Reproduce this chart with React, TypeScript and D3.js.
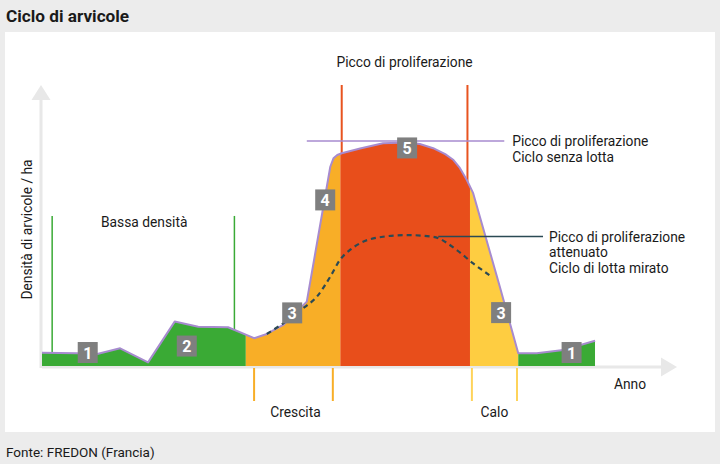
import * as React from "react";
import * as d3 from "d3";

const WIDTH: number = 720;
const HEIGHT: number = 464;
const FONT: string = "Roboto, 'DejaVu Sans', sans-serif";
const TEXT: string = "#1a1a1a";

// curve without control (time 0-100, density 0-100)
const cycleTime: number[] = [0, 5.5, 8.7, 12.3, 16.7, 20.9, 24.6, 29.3, 33.4, 35.4, 38.0, 41.7, 45.4, 45.9, 46.5, 47.2, 50.1, 53.7, 57.4, 59.5, 61.6, 63.5, 64.8, 65.8, 66.9, 67.9, 72.1, 75.0, 77.9, 82.1, 87.1];
const cycleDensity: number[] = [4.7, 4.5, 4.3, 6.3, 1.3, 15.8, 14.0, 13.8, 9.9, 11.4, 14.6, 22.9, 70.9, 73.9, 75.1, 75.7, 77.4, 79.3, 79.5, 79.0, 77.5, 75.4, 73.3, 70.5, 66.2, 61.5, 28.2, 4.5, 4.5, 5.7, 9.0];

// attenuated curve with targeted control
const controlTime: number[] = [35.4, 38.0, 41.1, 43.3, 45.4, 46.9, 48.5, 50.1, 53.7, 57.4, 61.6, 65.3, 67.9, 70.8];
const controlDensity: number[] = [11.4, 15.2, 20.5, 24.7, 31.8, 37.7, 41.3, 43.7, 46.0, 46.6, 46.0, 41.3, 36.5, 31.8];

// phases of the cycle
const phaseStart: number[] = [0, 32.1, 47.0, 67.4, 75.0];
const phaseEnd: number[] = [32.1, 47.0, 67.4, 75.0, 87.1];
const phaseColors: string[] = ["#3aaa35", "#f8ae27", "#e84e1b", "#fecd41", "#3aaa35"];

const phaseLabels: string[] = ["1", "2", "3", "4", "5", "3", "1"];
const phaseLabelTime: number[] = [7.2, 22.8, 39.4, 44.6, 57.5, 72.3, 83.4];
const phaseLabelDensity: number[] = [4.8, 7.1, 18.9, 59.1, 77.6, 19.0, 4.8];

const lowDensityMarks: number[] = [1.6, 30.3];
const lowDensityTop: number = 53.4;
const peakMarks: number[] = [47.2, 67.0];
const peakTop: number = 100;
const growthMarks: number[] = [33.4, 45.8];
const declineMarks: number[] = [67.7, 74.8];

const peakLevel: number = 80.1;
const peakLevelRange: number[] = [41.7, 72.8];
const attenuatedLevel: number = 46.1;
const attenuatedRange: number[] = [62.4, 78.9];

interface Point {
    x: number;
    y: number;
}

const App: React.FC = () => {
    const ref: React.RefObject<SVGSVGElement> = React.useRef<SVGSVGElement>(null);

    React.useEffect(() => {
        const svg = d3.select(ref.current);
        svg.selectAll("*").remove();

        const x: d3.ScaleLinear<number, number> = d3.scaleLinear().domain([0, 100]).range([42, 677]);
        const y: d3.ScaleLinear<number, number> = d3.scaleLinear().domain([0, 100]).range([366, 85]);

        const cycle: Point[] = cycleTime.map((t: number, i: number) => ({ x: t, y: cycleDensity[i] }));
        const control: Point[] = controlTime.map((t: number, i: number) => ({ x: t, y: controlDensity[i] }));

        // background + panel
        svg.append("rect").attr("width", WIDTH).attr("height", HEIGHT).attr("fill", "#ececec");
        svg.append("rect").attr("x", 5).attr("y", 32).attr("width", 710).attr("height", 400).attr("fill", "#fff");

        svg.append("text")
            .attr("x", 6).attr("y", 22)
            .attr("font-size", 17.2).attr("font-weight", "bold")
            .attr("fill", TEXT)
            .text("Ciclo di arvicole");
        svg.append("text")
            .attr("x", 6).attr("y", 457)
            .attr("font-size", 13.5)
            .attr("fill", TEXT)
            .text("Fonte: FREDON (Francia)");

        // axes with arrows
        const axisColor: string = "#e8e8e8";
        svg.append("line")
            .attr("x1", x(0) - 1).attr("x2", x(0) - 1)
            .attr("y1", y(0) + 2).attr("y2", y(peakTop) + 14)
            .attr("stroke", axisColor).attr("stroke-width", 3);
        svg.append("path")
            .attr("d", `M${x(0) - 1},${y(peakTop)} L${x(0) - 10.5},${y(peakTop) + 15} L${x(0) + 8.5},${y(peakTop) + 15} Z`)
            .attr("fill", axisColor);
        svg.append("line")
            .attr("x1", x(0)).attr("x2", x(100) - 14)
            .attr("y1", y(0) + 1).attr("y2", y(0) + 1)
            .attr("stroke", axisColor).attr("stroke-width", 3);
        svg.append("path")
            .attr("d", `M${x(100)},${y(0) + 1} L${x(100) - 16},${y(0) - 8.5} L${x(100) - 16},${y(0) + 10.5} Z`)
            .attr("fill", axisColor);

        // vertical markers
        lowDensityMarks.forEach((t: number) => {
            svg.append("line")
                .attr("x1", x(t)).attr("x2", x(t))
                .attr("y1", y(lowDensityTop)).attr("y2", y(0))
                .attr("stroke", "#3aaa35").attr("stroke-width", 1.5);
        });
        peakMarks.forEach((t: number) => {
            svg.append("line")
                .attr("x1", x(t)).attr("x2", x(t))
                .attr("y1", y(peakTop)).attr("y2", y(0))
                .attr("stroke", "#e8531f").attr("stroke-width", 2);
        });
        growthMarks.forEach((t: number) => {
            svg.append("line")
                .attr("x1", x(t)).attr("x2", x(t))
                .attr("y1", y(0) + 2).attr("y2", y(0) + 35)
                .attr("stroke", "#f8ae27").attr("stroke-width", 2);
        });
        declineMarks.forEach((t: number) => {
            svg.append("line")
                .attr("x1", x(t)).attr("x2", x(t))
                .attr("y1", y(0) + 2).attr("y2", y(0) + 35)
                .attr("stroke", "#fed35a").attr("stroke-width", 2);
        });

        // phase areas clipped by time range
        const area = d3.area<Point>()
            .x((d: Point) => x(d.x))
            .y0(y(0))
            .y1((d: Point) => y(d.y));
        const defs = svg.append("defs");
        phaseStart.forEach((s: number, i: number) => {
            defs.append("clipPath").attr("id", `phase-${i}`)
                .append("rect")
                .attr("x", x(s)).attr("y", 0)
                .attr("width", x(phaseEnd[i]) - x(s)).attr("height", HEIGHT);
            svg.append("path")
                .datum(cycle)
                .attr("d", area)
                .attr("fill", phaseColors[i])
                .attr("clip-path", `url(#phase-${i})`);
        });

        // peak level line
        svg.append("line")
            .attr("x1", x(peakLevelRange[0])).attr("x2", x(peakLevelRange[1]))
            .attr("y1", y(peakLevel)).attr("y2", y(peakLevel))
            .attr("stroke", "#a78bcf").attr("stroke-width", 1.5);

        // cycle outline
        const line = d3.line<Point>().x((d: Point) => x(d.x)).y((d: Point) => y(d.y));
        svg.append("path")
            .datum(cycle)
            .attr("d", line)
            .attr("fill", "none")
            .attr("stroke", "#a78bcf")
            .attr("stroke-width", 2)
            .attr("stroke-linejoin", "round");

        // attenuated curve
        svg.append("path")
            .datum(control)
            .attr("d", line.curve(d3.curveMonotoneX))
            .attr("fill", "none")
            .attr("stroke", "#2b4a54")
            .attr("stroke-width", 2.2)
            .attr("stroke-dasharray", "5,4");
        svg.append("line")
            .attr("x1", x(attenuatedRange[0])).attr("x2", x(attenuatedRange[1]))
            .attr("y1", y(attenuatedLevel)).attr("y2", y(attenuatedLevel))
            .attr("stroke", "#2b4a54").attr("stroke-width", 1.5);

        // number boxes
        phaseLabels.forEach((label: string, i: number) => {
            const cx: number = x(phaseLabelTime[i]);
            const cy: number = y(phaseLabelDensity[i]);
            svg.append("rect")
                .attr("x", cx - 10).attr("y", cy - 10.5)
                .attr("width", 20).attr("height", 21)
                .attr("fill", "#7f7f7f");
            svg.append("text")
                .attr("x", cx).attr("y", cy + 6)
                .attr("text-anchor", "middle")
                .attr("font-size", 16).attr("font-weight", "bold")
                .attr("fill", "#fff")
                .text(label);
        });

        // annotations
        const txt = (px: number, py: number, s: string, anchor: string = "start") =>
            svg.append("text")
                .attr("x", px).attr("y", py)
                .attr("text-anchor", anchor)
                .attr("font-size", 13.8)
                .attr("fill", TEXT)
                .text(s);

        txt(x((peakMarks[0] + peakMarks[1]) / 2), 67, "Picco di proliferazione", "middle");
        txt(x(16.1), 227, "Bassa densità", "middle");
        txt(x((growthMarks[0] + growthMarks[1]) / 2) + 2, 417, "Crescita", "middle");
        txt(x((declineMarks[0] + declineMarks[1]) / 2), 417, "Calo", "middle");
        txt(x(92.6), 389, "Anno", "middle");
        txt(x(peakLevelRange[1]) + 8, y(peakLevel) + 5, "Picco di proliferazione");
        txt(x(peakLevelRange[1]) + 8, y(peakLevel) + 21, "Ciclo senza lotta");
        txt(x(attenuatedRange[1]) + 6, y(attenuatedLevel) + 6, "Picco di proliferazione");
        txt(x(attenuatedRange[1]) + 6, y(attenuatedLevel) + 21, "attenuato");
        txt(x(attenuatedRange[1]) + 6, y(attenuatedLevel) + 37, "Ciclo di lotta mirato");

        svg.append("text")
            .attr("transform", `translate(32, ${(y(0) + y(peakTop)) / 2 + 4}) rotate(-90)`)
            .attr("text-anchor", "middle")
            .attr("font-size", 13.8)
            .attr("fill", TEXT)
            .text("Densità di arvicole / ha");
    }, []);

    return (
        <svg
            ref={ref}
            width={WIDTH}
            height={HEIGHT}
            style={{ position: "absolute", left: 0, top: 0, fontFamily: FONT }}
        />
    );
};

export default App;
